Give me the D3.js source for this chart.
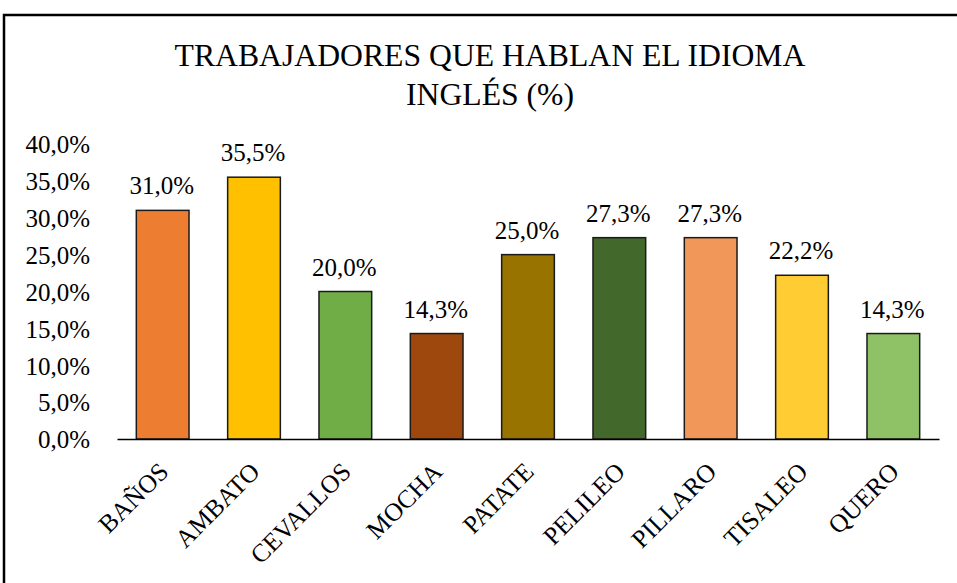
<!DOCTYPE html>
<html>
<head>
<meta charset="utf-8">
<script src="https://cdn.jsdelivr.net/npm/d3@7"></script>
<style>
  html, body { margin: 0; padding: 0; background: #fff; }
  svg { display: block; }
</style>
</head>
<body>
<svg id="chart" width="957" height="583"></svg>
<script>
const categories = ["BAÑOS", "AMBATO", "CEVALLOS", "MOCHA", "PATATE", "PELILEO", "PILLARO", "TISALEO", "QUERO"];
const values = [31.0, 35.5, 20.0, 14.3, 25.0, 27.3, 27.3, 22.2, 14.3];
const colors = ["#ED7D31", "#FFC000", "#70AD47", "#9E480E", "#997300", "#43682B", "#F1975A", "#FFCD33", "#8FC266"];
const yTicks = [0, 5, 10, 15, 20, 25, 30, 35, 40];
const titleLines = ["TRABAJADORES QUE HABLAN EL IDIOMA", "INGLÉS (%)"];

const FONT = "'Liberation Serif', 'Times New Roman', serif";
const svg = d3.select("#chart");

// frame
svg.append("rect")
  .attr("x", 4).attr("y", 15)
  .attr("width", 980).attr("height", 640)
  .attr("fill", "none").attr("stroke", "#000").attr("stroke-width", 2.5);

const x = d3.scaleBand().domain(categories).range([117, 939])
  .paddingInner(0.423).paddingOuter(0.2115);
const y = d3.scaleLinear().domain([0, 40]).range([439, 144]);

const fmt = v => d3.format(".1f")(v).replace(".", ",") + "%";

// title
svg.append("text")
  .attr("x", 490).attr("y", 66)
  .attr("text-anchor", "middle")
  .attr("font-family", FONT)
  .style("font-size", "31.7px")
  .selectAll("tspan").data(titleLines).join("tspan")
  .attr("x", 490).attr("dy", (d, i) => i === 0 ? 0 : 39)
  .text(d => d);

// y axis (labels only)
const yAxis = d3.axisLeft(y).tickValues(yTicks).tickFormat(fmt).tickSize(0).tickPadding(0);
const gy = svg.append("g").attr("transform", "translate(90,0)").call(yAxis);
gy.attr("font-family", FONT);
gy.select(".domain").remove();
gy.selectAll("text").attr("font-family", FONT).style("font-size", "25px").attr("dy", "0.35em").attr("fill", "#000");

// bars
svg.append("g").selectAll("rect").data(categories).join("rect")
  .attr("x", d => x(d))
  .attr("y", (d, i) => y(values[i]))
  .attr("width", x.bandwidth())
  .attr("height", (d, i) => y(0) - y(values[i]))
  .attr("fill", (d, i) => colors[i])
  .attr("stroke", "#1a1a1a").attr("stroke-width", 1.5);

// x axis baseline
const xAxis = d3.axisBottom(x).tickSize(0).tickSizeOuter(0).tickFormat("");
const gx = svg.append("g").attr("transform", `translate(0,${y(0)})`).call(xAxis);
gx.select(".domain").attr("stroke", "#000").attr("stroke-width", 1.5);

// category labels rotated
svg.append("g").selectAll("text").data(categories).join("text")
  .attr("transform", d => `translate(${x(d) + x.bandwidth() / 2 + 1},${467}) rotate(-45)`)
  .attr("text-anchor", "end")
  .attr("dy", "0.35em")
  .attr("font-family", FONT)
  .style("font-size", "25.5px")
  .text(d => d);

// value labels
svg.append("g").selectAll("text").data(categories).join("text")
  .attr("x", d => x(d) + x.bandwidth() / 2 - 1)
  .attr("y", (d, i) => y(values[i]) - 16)
  .attr("text-anchor", "middle")
  .attr("font-family", FONT)
  .style("font-size", "25px")
  .text((d, i) => fmt(values[i]));
</script>
</body>
</html>
